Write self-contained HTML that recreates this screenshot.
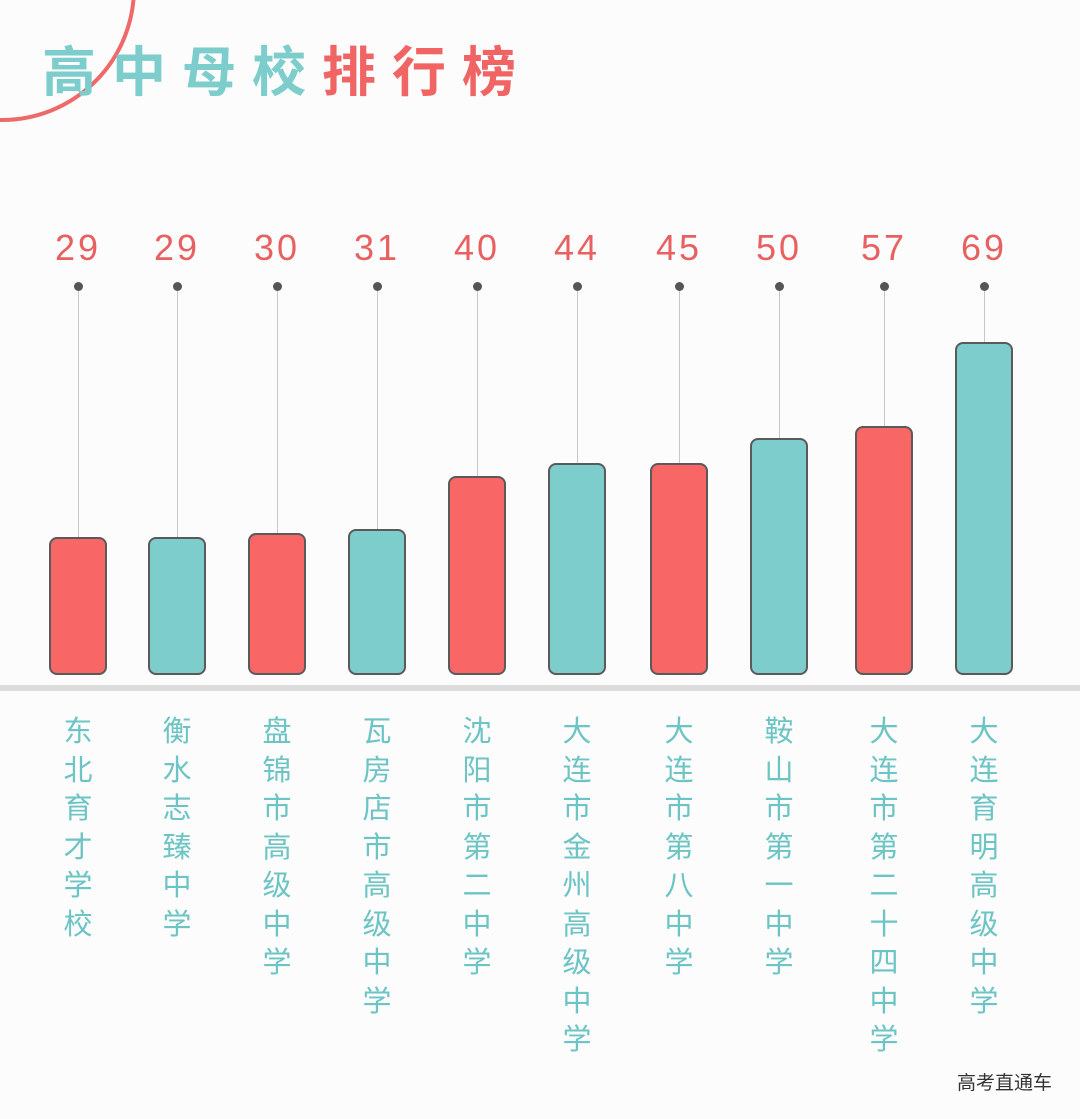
<!DOCTYPE html>
<html><head><meta charset="utf-8"><style>
body{margin:0;width:1080px;height:1119px;background:#fcfcfc;position:relative;overflow:hidden;font-family:"Liberation Sans","Noto Sans CJK SC",sans-serif}
.t{position:absolute;top:28px;font-size:54px;font-weight:bold;letter-spacing:16px;white-space:nowrap}
.bar{position:absolute;border:2px solid #5a5a5a;border-radius:8px;box-sizing:border-box}
.r{background:#f96666}.g{background:#7dcdcd}
.v{position:absolute;width:1px;background:#c8c8c8;top:287px}
.d{position:absolute;top:282px;width:9px;height:9px;border-radius:50%;background:#555}
.n{position:absolute;top:227px;width:100px;text-align:center;font-size:36px;color:#e86060;letter-spacing:3px}
.l{position:absolute;top:713px;width:40px;text-align:center;font-size:29px;line-height:38.5px;color:#6cc4c4}
</style></head><body>
<svg style="position:absolute;left:0;top:0" width="200" height="160"><circle cx="2" cy="-12" r="132" fill="none" stroke="#ee6a6a" stroke-width="4"/></svg>
<div class="t" style="left:42px"><span style="color:#7dcdcd">高中母校</span><span style="color:#f06464">排行榜</span></div>
<div style="position:absolute;left:0;top:685px;width:1080px;height:6px;background:#dcdcdc"></div>
<div id="c"></div>
<div style="position:absolute;right:28px;top:1068px;font-size:19px;color:#333">高考直通车</div>
<script>
var d=[[49,537,'r',29,'东北育才学校'],[148,537,'g',29,'衡水志臻中学'],[248,533,'r',30,'盘锦市高级中学'],[348,529,'g',31,'瓦房店市高级中学'],[448,476,'r',40,'沈阳市第二中学'],[548,463,'g',44,'大连市金州高级中学'],[650,463,'r',45,'大连市第八中学'],[750,438,'g',50,'鞍山市第一中学'],[855,426,'r',57,'大连市第二十四中学'],[955,342,'g',69,'大连育明高级中学']];
var h='';d.forEach(function(a){var cx=a[0]+29;
h+='<div class="v" style="left:'+cx+'px;height:'+(a[1]-287)+'px"></div><div class="d" style="left:'+(cx-4)+'px"></div>';
h+='<div class="n" style="left:'+(cx-50)+'px">'+a[3]+'</div>';
h+='<div class="bar '+a[2]+'" style="left:'+a[0]+'px;top:'+a[1]+'px;width:58px;height:'+(675-a[1])+'px"></div>';
h+='<div class="l" style="left:'+(cx-20)+'px">'+a[4].split('').join('<br>')+'</div>';});
document.getElementById('c').innerHTML=h;
</script>
</body></html>
